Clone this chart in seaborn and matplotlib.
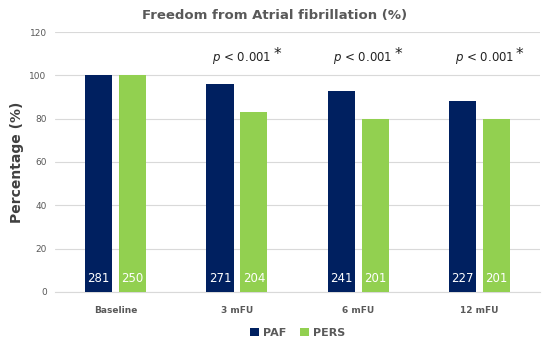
import pandas as pd
import seaborn as sns
import matplotlib.pyplot as plt

# data
timepoints = ["Baseline", "3 mFU", "6 mFU", "12 mFU"]
paf_pct = [100, 96, 93, 88]
pers_pct = [100, 83, 80, 80]
paf_n = [281, 271, 241, 227]
pers_n = [250, 204, 201, 201]
p_labels = ["", "p < 0.001", "p < 0.001", "p < 0.001"]

df = pd.DataFrame({
    "Timepoint": timepoints * 2,
    "Percentage": paf_pct + pers_pct,
    "Group": ["PAF"] * 4 + ["PERS"] * 4,
    "n": paf_n + pers_n,
})

sns.set_style("white")
plt.rcParams["font.family"] = ["DejaVu Sans"]

fig = plt.figure(figsize=(5.5, 3.48), dpi=100)
ax = fig.add_axes([0.1, 0.161, 0.882, 0.747])

sns.barplot(data=df, x="Timepoint", y="Percentage", hue="Group",
            palette={"PAF": "#002060", "PERS": "#92D050"}, saturation=1,
            width=0.56, gap=0.2, linewidth=0, ax=ax, zorder=3)

# n counts inside the bars, near the bottom
for cont, grp in zip(ax.containers, ["PAF", "PERS"]):
    counts = df.loc[df["Group"] == grp, "n"].tolist()
    for bar, c in zip(cont, counts):
        ax.text(bar.get_x() + bar.get_width() / 2, 6, str(c), ha="center",
                va="center", color="white", fontsize=8.5, zorder=4)

for i, lab in enumerate(p_labels):
    if lab:
        ax.text(i + 0.04, 108, "$p$ < 0.001", ha="center", va="center",
                fontsize=8.5, color="#222222")
        ax.text(i + 0.33, 109.5, "*", ha="center", va="center", fontsize=11,
                color="#222222")

ax.set_ylim(0, 120)
ax.set_yticks(range(0, 121, 20))
ax.set_xlim(-0.5, 3.5)
ax.grid(axis="y", color="#d9d9d9", linewidth=0.8, zorder=0)
for s in ["top", "right", "left"]:
    ax.spines[s].set_visible(False)
ax.spines["bottom"].set_color("#d9d9d9")
ax.tick_params(axis="both", length=0, labelsize=6.5, colors="#595959", pad=6)
ax.tick_params(axis="x", pad=10)
for lab in ax.get_xticklabels():
    lab.set_fontweight("bold")
ax.set_xlabel("")
ax.set_ylabel("Percentage (%)", fontsize=10, fontweight="bold", color="#404040",
              labelpad=4)
fig.suptitle("Freedom from Atrial fibrillation (%)", y=0.975, fontsize=9.5,
             fontweight="bold", color="#595959")

ax.legend(loc="upper center", bbox_to_anchor=(0.5, -0.1), ncol=2, frameon=False,
          fontsize=8, handlelength=0.8, handleheight=0.8, handletextpad=0.4,
          columnspacing=1.2, labelcolor="#595959")
for t in ax.get_legend().get_texts():
    t.set_fontweight("bold")

plt.savefig("out.png", dpi=100)
